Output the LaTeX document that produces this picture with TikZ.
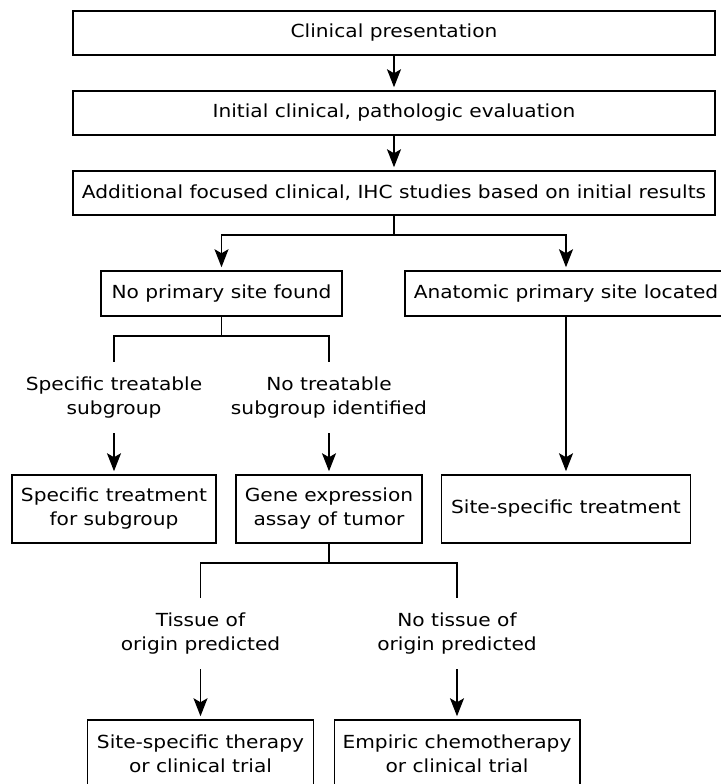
\documentclass[tikz,border=0pt]{standalone}
\usepackage{fontspec}
\setmainfont{DejaVu Sans}[FakeStretch=1.12]
\usetikzlibrary{arrows.meta}
\begin{document}
\begin{tikzpicture}[x=1pt,y=-1pt,
  font=\fontsize{18}{24}\selectfont,
  box/.style={draw, line width=1.5pt, align=center, inner sep=0pt, minimum height=44pt},
  lbl/.style={align=center, inner sep=0pt, minimum height=71pt},
  conn/.style={line width=1.5pt},
  arr/.style={-{Stealth[length=18pt,width=14pt,inset=4pt]}, shorten >=3pt}]
\useasboundingbox (0,0) rectangle (720,784);

\node[box, minimum width=642pt] (b1) at (394,33) {Clinical presentation};
\node[box, minimum width=642pt] (b2) at (394,113) {Initial clinical, pathologic evaluation};
\node[box, minimum width=642pt] (b3) at (394,193) {Additional focused clinical, IHC studies based on initial results};
\node[box, minimum width=241pt, minimum height=45pt] (nops) at (221.5,293.5) {No primary site found};
\node[box, minimum width=322pt, minimum height=45pt] (anat) at (566,293.5) {Anatomic primary site located};
\node[box, minimum width=204pt, minimum height=68pt] (spt) at (114,509) {Specific treatment\\for subgroup};
\node[box, minimum width=186pt, minimum height=68pt] (gene) at (329,509) {Gene expression\\assay of tumor};
\node[box, minimum width=249pt, minimum height=68pt] (site) at (566,509) {Site-specific treatment};
\node[box, minimum width=226pt, minimum height=68pt] (ssth) at (200.5,754) {Site-specific therapy\\or clinical trial};
\node[box, minimum width=245.5pt, minimum height=68pt] (emp) at (457,754) {Empiric chemotherapy\\or clinical trial};

\node[lbl] (l1) at (114,397.5) {Specific treatable\\subgroup};
\node[lbl] (l2) at (329,397.5) {No treatable\\subgroup identified};
\node[lbl] (l3) at (200.5,633.5) {Tissue of\\origin predicted};
\node[lbl] (l4) at (457,633.5) {No tissue of\\origin predicted};

\coordinate (j1) at (394,235);
\coordinate (j2) at (221.5,336);
\coordinate (j3) at (329,563);

\draw[conn,arr] (b1) -- (b2);
\draw[conn,arr] (b2) -- (b3);
\draw[conn] (b3.south) -- (j1);
\draw[conn,arr] (j1) -| (nops.north);
\draw[conn,arr] (j1) -| (anat.north);
\draw[conn] (nops.south) -- (j2);
\draw[conn] (j2) -| (l1.north);
\draw[conn] (j2) -| (l2.north);
\draw[conn,arr] (l1.south) -- (spt.north);
\draw[conn,arr] (l2.south) -- (gene.north);
\draw[conn,arr] (anat.south) -- (site.north);
\draw[conn] (gene.south) -- (j3);
\draw[conn] (j3) -| (l3.north);
\draw[conn] (j3) -| (l4.north);
\draw[conn,arr] (l3.south) -- (ssth.north);
\draw[conn,arr] (l4.south) -- (emp.north);
\end{tikzpicture}
\end{document}
